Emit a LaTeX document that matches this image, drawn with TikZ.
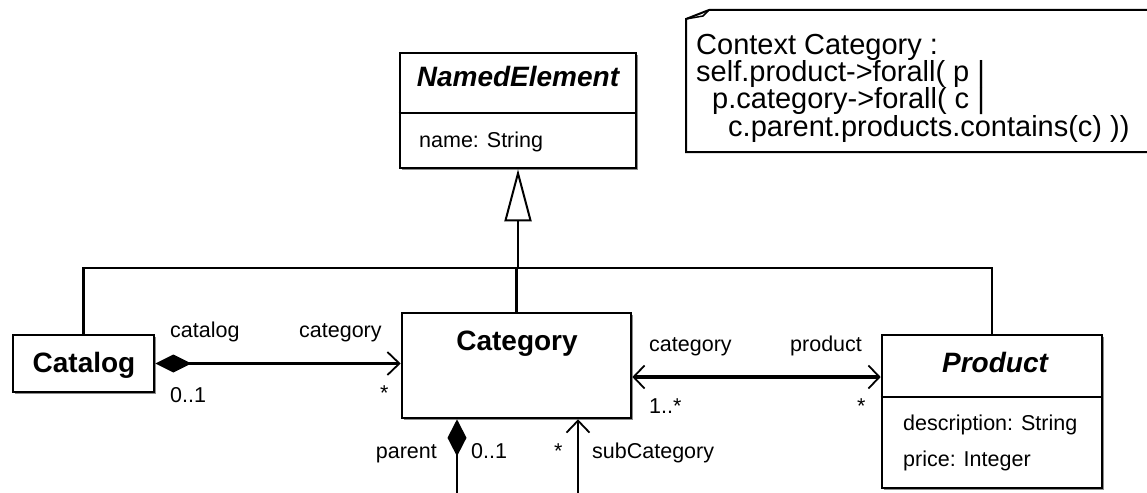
\documentclass[tikz,border=0pt]{standalone}
\usepackage{fontspec}
\setmainfont{Liberation Sans}
\usetikzlibrary{arrows.meta,shadows}
\tikzset{
  cls/.style={draw, line width=2.6pt, fill=white, inner sep=0pt,
    drop shadow={shadow xshift=1.6pt, shadow yshift=-1.6pt, fill=black!45, opacity=1}},
  ttl/.style={font=\fontsize{28}{30}\selectfont\bfseries, inner sep=0pt, anchor=base},
  ttli/.style={font=\fontsize{28}{30}\selectfont\bfseries\itshape, inner sep=0pt, anchor=base},
  attr/.style={font=\fontsize{21.5}{23}\selectfont, inner sep=0pt, anchor=base west},
  lbl/.style={font=\fontsize{21.5}{23}\selectfont, inner sep=0pt, anchor=base west},
  lblr/.style={font=\fontsize{21.5}{23}\selectfont, inner sep=0pt, anchor=base east},
  ocl/.style={font=\fontsize{29}{30}\selectfont, inner sep=0pt, anchor=base west},
  conn/.style={line width=2.5pt},
  thickconn/.style={line width=4pt},
  notebox/.style={line width=2pt, line join=miter},
  openend/.style={-{Straight Barb[length=12pt,width=23pt,line width=1.8pt]}},
  openboth/.style={{Straight Barb[length=11pt,width=23pt,line width=1.8pt]}-{Straight Barb[length=11pt,width=23pt,line width=1.8pt]}},
  compopen/.style={{Diamond[length=36pt,width=18pt]}-{Straight Barb[length=12pt,width=23pt,line width=1.8pt]}},
  genend/.style={-{Triangle[length=52pt,width=27pt,line width=2pt,fill=white]}},
}
\begin{document}
\begin{tikzpicture}[x=1pt,y=-1pt]
\useasboundingbox (0,0) rectangle (1147,492);

% OCL note
\draw[notebox] (709,10) -- (1150,10) (1150,152) -- (686,152) -- (686,19) -- (709,10);
\draw[notebox, line width=1.5pt] (686,19) -- (703,16) -- (709,10);
\node[ocl] (ocl1) at (696,55) {Context Category :};
\node[ocl] (ocl2) at (696,82) {self.product->forall( p |};
\node[ocl] (ocl3) at (712,109) {p.category->forall( c |};
\node[ocl] (ocl4) at (728,136) {c.parent.products.contains(c) ))};

% classes
\node[cls, minimum width=236pt, minimum height=115pt] (ne) at (518,110.5) {};
\draw[line width=2.6pt] (ne.west |- 0,113) -- (ne.east |- 0,113);
\node[ttli] (netitle) at (518,87) {NamedElement};
\node[attr] (nename) at (419,147) {name: String};

\node[cls, minimum width=229pt, minimum height=105pt] (cat) at (516.5,365.5) {};
\node[ttl] (cattitle) at (517,350) {Category};

\node[cls, minimum width=141pt, minimum height=57pt] (clg) at (83.5,363.5) {};
\node[ttl] (clgtitle) at (84,372) {Catalog};

\node[cls, minimum width=220pt, minimum height=153pt] (prd) at (992,411.5) {};
\draw[line width=2.6pt] (prd.west |- 0,397) -- (prd.east |- 0,397);
\node[ttli] (prdtitle) at (995,372) {Product};
\node[attr] (prddesc) at (903,430) {description: String};
\node[attr] (prdprice) at (903,466) {price: Integer};

% generalisation tree
\coordinate (bar) at (518,268);
\draw[conn] (clg.north) |- (bar) -| (prd.north);
\draw[conn] (bar -| cat.north) -- (cat.north);
\draw[conn, genend] (bar) -- (ne.south);

% Catalog - Category
\draw[conn, compopen] (clg.east) -- (cat.west |- clg.east);
\node[lbl] (l1) at (170,337) {catalog};
\node[lbl] (l2) at (299,337) {category};
\node[lbl] (l3) at (170,402) {0..1};
\node[lbl] (l4) at (380,400) {*};

% Category - Product
\coordinate (cp) at (0,377);
\draw[thickconn, openboth] (cat.east |- cp) -- (prd.west |- cp);
\node[lbl] (l5) at (649,351) {category};
\node[lbl] (l6) at (790,351) {product};
\node[lbl] (l7) at (649,413) {1..*};
\node[lbl] (l8) at (857,413) {*};

% parent / subCategory
\coordinate (pl) at (457,495);
\coordinate (sl) at (578,495);
\draw[conn, {Diamond[length=37pt,width=19pt]}-] (cat.south -| pl) -- (pl);
\draw[conn, openend] (sl) -- (cat.south -| sl);
\node[lblr] (l9) at (437,458) {parent};
\node[lbl] (l10) at (471,458) {0..1};
\node[lbl] (l11) at (554,458) {*};
\node[lbl] (l12) at (592,458) {subCategory};
\end{tikzpicture}
\end{document}
